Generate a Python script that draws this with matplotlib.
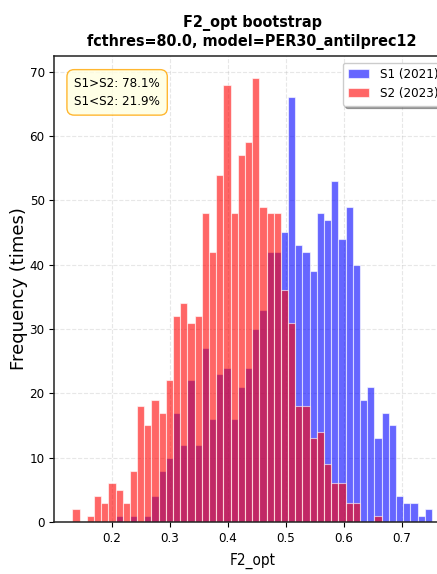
import numpy as np
import matplotlib
matplotlib.use("Agg")
import matplotlib.pyplot as plt

plt.rcParams["font.family"] = "DejaVu Sans"
plt.rcParams["font.stretch"] = "condensed"

# --- bootstrap histogram counts (50 shared bins) ---
bin_lo, bin_hi, n_bins = 0.1315, 0.7525, 50
s1_counts = [0, 0, 0, 0, 0, 0, 1, 0, 1, 0,
             1, 4, 8, 10, 17, 12, 22, 12, 27, 16,
             23, 24, 16, 21, 24, 30, 33, 42, 42, 45,
             66, 43, 42, 39, 48, 47, 53, 44, 49, 40,
             19, 21, 13, 17, 15, 4, 3, 3, 1, 2]
s2_counts = [2, 0, 1, 4, 3, 6, 5, 3, 8, 18,
             15, 19, 17, 22, 32, 34, 31, 32, 48, 42,
             54, 68, 48, 57, 59, 69, 49, 48, 48, 36,
             31, 18, 18, 13, 14, 9, 6, 6, 3, 3,
             0, 0, 1, 0, 0, 0, 0, 0, 0, 0]
labels = ["S1 (2021)", "S2 (2023)"]
p_gt, p_lt = 78.1, 21.9

edges = np.linspace(bin_lo, bin_hi, n_bins + 1)
width = edges[1] - edges[0]

fig = plt.figure(figsize=(4.37, 5.74), dpi=100)
ax = fig.add_axes([0.1245, 0.0906, 0.905, 0.812])

ax.bar(edges[:-1], s1_counts, width=width, align="edge", color="blue",
       alpha=0.6, edgecolor="white", linewidth=0.8, label=labels[0])
ax.bar(edges[:-1], s2_counts, width=width, align="edge", color="red",
       alpha=0.6, edgecolor="white", linewidth=0.8, label=labels[1])

ax.set_title("F2_opt bootstrap\nfcthres=80.0, model=PER30_antilprec12",
             fontsize=11.5, fontweight="bold", pad=7, linespacing=1.3)
ax.set_xlabel("F2_opt", fontsize=11, labelpad=6)
ax.set_ylabel("Frequency (times)", fontsize=13, fontstretch="normal")
ax.yaxis.set_label_coords(-0.067, 0.5)
ax.tick_params(labelsize=9.5)
ax.grid(True, linestyle="--", alpha=0.3)
ax.set_axisbelow(True)
for side in ax.spines.values():
    side.set_linewidth(1.1)
    side.set_color("#222222")

ax.text(0.05, 0.955, f"S1>S2: {p_gt}%\nS1<S2: {p_lt}%", transform=ax.transAxes,
        va="top", fontsize=9.5, linespacing=1.5,
        bbox=dict(boxstyle="round,pad=0.55", facecolor="lightyellow",
                  edgecolor="orange", alpha=0.8))
ax.legend(loc="upper right", shadow=True, fontsize=9.5, handlelength=1.6)

fig.savefig("out.png", dpi=100)
